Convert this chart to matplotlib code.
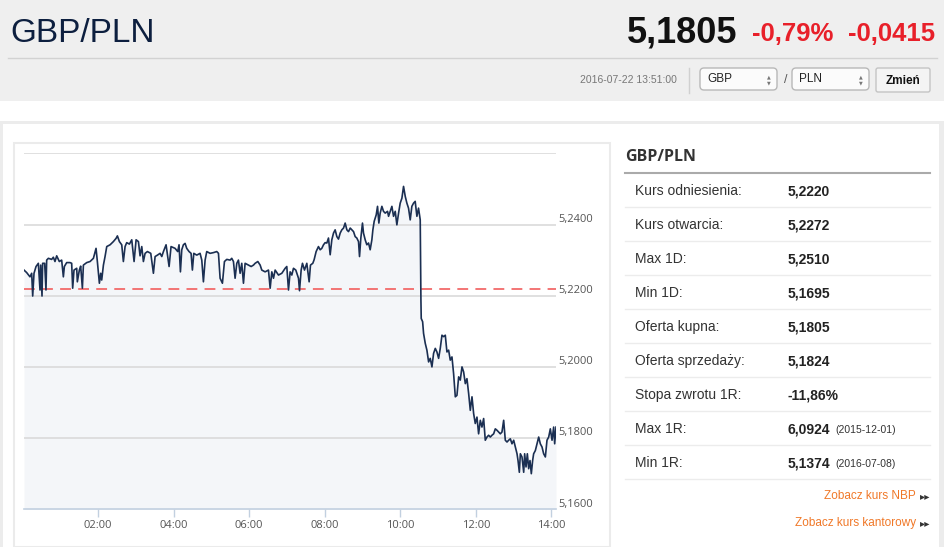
import matplotlib
matplotlib.use("Agg")
import matplotlib.pyplot as plt
from matplotlib.patches import Rectangle, FancyBboxPatch
import matplotlib.transforms as mtransforms

# ---------------- data (minutes after midnight, GBP/PLN rate) ----------------
minutes_a = [2.4, 6.6, 11.9, 14.6, 16.2, 18.3, 21.5, 25.2, 27.8, 28.9,
             31.0, 32.0, 35.2, 37.3, 38.4, 41.1, 46.3, 49.0, 51.6, 54.3,
             58.5, 62.2, 64.9, 66.5, 70.2, 75.5, 78.1, 79.7, 81.8, 86.1,
             87.1, 90.3, 92.4, 95.1, 96.7, 102.0, 107.3, 112.6, 116.8, 118.9,
             122.1, 124.2, 125.8, 128.5, 131.1, 133.8, 139.1, 144.3, 148.6, 150.7,
             153.9, 157.6, 160.2, 162.9, 165.5, 169.8, 173.5, 177.2, 180.4, 184.1,
             186.7, 189.4, 192.0, 194.7, 198.4, 203.7, 207.9, 210.6, 214.3, 218.5,
             221.2, 223.8, 228.0]
rate_a = [5.2272, 5.2265, 5.2253, 5.2263, 5.2199, 5.2263, 5.2282, 5.2291, 5.2216, 5.2286,
          5.2199, 5.2291, 5.2291, 5.2216, 5.2300, 5.2305, 5.2302, 5.2308, 5.2296, 5.2312,
          5.2296, 5.2300, 5.2253, 5.2282, 5.2293, 5.2293, 5.2291, 5.2221, 5.2272, 5.2277,
          5.2239, 5.2272, 5.2283, 5.2221, 5.2286, 5.2293, 5.2296, 5.2305, 5.2333, 5.2296,
          5.2235, 5.2263, 5.2244, 5.2286, 5.2310, 5.2338, 5.2343, 5.2352, 5.2361, 5.2368,
          5.2352, 5.2343, 5.2296, 5.2338, 5.2349, 5.2345, 5.2357, 5.2296, 5.2357, 5.2352,
          5.2312, 5.2338, 5.2296, 5.2319, 5.2324, 5.2319, 5.2263, 5.2310, 5.2314, 5.2319,
          5.2310, 5.2324, 5.2343]

minutes_b = [232.8, 235.9, 242.3, 246.5, 248.6, 250.8, 252.9, 255.5, 258.2, 260.8,
             264.5, 267.7, 269.8, 272.0, 276.7, 282.0, 284.7, 287.3, 290.0, 292.6,
             297.9, 303.2, 308.5, 311.2, 313.8, 317.5, 320.7, 324.4, 329.7, 332.3,
             335.0, 337.6, 340.3, 342.9, 345.6, 348.2, 350.9, 353.5, 358.8, 363.1,
             366.8, 369.4, 373.7, 377.4, 380.0, 385.3, 390.6, 393.3, 395.9, 398.6,
             401.2, 406.5, 411.8, 417.1, 419.7, 422.4, 425.0, 427.7, 430.3, 434.0,
             438.3, 439.9, 442.5, 444.6, 447.8, 451.5, 455.2, 457.3]
rate_b = [5.2282, 5.2338, 5.2333, 5.2324, 5.2343, 5.2267, 5.2329, 5.2343, 5.2347, 5.2333,
          5.2324, 5.2319, 5.2272, 5.2319, 5.2314, 5.2319, 5.2300, 5.2239, 5.2300, 5.2324,
          5.2319, 5.2321, 5.2324, 5.2319, 5.2249, 5.2235, 5.2296, 5.2302, 5.2300, 5.2305,
          5.2296, 5.2249, 5.2291, 5.2300, 5.2263, 5.2291, 5.2235, 5.2291, 5.2286, 5.2282,
          5.2286, 5.2291, 5.2296, 5.2286, 5.2272, 5.2267, 5.2272, 5.2221, 5.2267, 5.2249,
          5.2272, 5.2258, 5.2263, 5.2277, 5.2282, 5.2216, 5.2267, 5.2258, 5.2277, 5.2272,
          5.2249, 5.2214, 5.2272, 5.2291, 5.2272, 5.2291, 5.2239, 5.2286]

minutes_c = [461.0, 463.1, 466.3, 470.0, 472.7, 475.3, 478.0, 480.6, 483.3, 485.9,
             488.6, 491.2, 493.9, 496.5, 499.2, 501.8, 504.5, 507.1, 509.8, 512.4,
             515.1, 517.7, 520.4, 523.0, 525.7, 528.3, 530.9, 533.6, 535.2, 537.3,
             539.9, 541.5, 544.2, 546.8, 549.5, 552.1, 554.8, 556.4, 558.5, 561.7,
             563.8, 565.9, 568.0, 570.7, 573.3, 576.0, 579.7, 581.3, 583.9, 586.6,
             589.2, 591.9, 594.5, 597.2, 599.8, 602.5, 605.1, 607.8, 610.4, 613.0,
             615.7, 618.3, 621.0, 623.6, 626.3, 628.9, 631.6, 632.7]
rate_c = [5.2291, 5.2301, 5.2324, 5.2338, 5.2329, 5.2333, 5.2343, 5.2349, 5.2348, 5.2362,
          5.2315, 5.2357, 5.2376, 5.2385, 5.2366, 5.2359, 5.2376, 5.2385, 5.2390, 5.2404,
          5.2385, 5.2380, 5.2390, 5.2385, 5.2380, 5.2366, 5.2362, 5.2352, 5.2310, 5.2362,
          5.2404, 5.2376, 5.2357, 5.2343, 5.2348, 5.2329, 5.2357, 5.2385, 5.2409, 5.2427,
          5.2451, 5.2404, 5.2432, 5.2451, 5.2437, 5.2432, 5.2437, 5.2423, 5.2437, 5.2451,
          5.2423, 5.2437, 5.2399, 5.2432, 5.2460, 5.2474, 5.2507, 5.2479, 5.2460, 5.2446,
          5.2413, 5.2451, 5.2460, 5.2465, 5.2423, 5.2446, 5.2413, 5.2188]

minutes_d = [633.2, 635.4, 636.9, 639.6, 642.2, 644.9, 647.5, 650.2, 652.8, 655.5,
             658.1, 660.8, 663.4, 666.1, 668.7, 671.4, 674.0, 676.7, 679.3, 682.0,
             684.6, 687.3, 689.9, 692.6, 695.2, 697.9, 700.5, 703.2, 705.8, 708.5,
             711.1, 713.8, 716.4, 719.0, 721.7, 724.3, 727.0, 729.6, 732.3, 734.9,
             737.6, 740.2, 742.9, 745.5, 748.2, 750.8, 753.5, 756.1, 758.8, 761.4,
             764.1, 766.7, 769.4, 772.0, 774.7, 777.3, 780.0, 782.6, 785.3, 786.9,
             789.0, 790.6, 793.2, 795.9, 797.4, 799.6, 801.7, 803.8, 805.9, 808.0,
             810.1, 811.7, 814.4, 817.0, 819.7, 822.3, 825.0, 827.6, 830.3, 832.9,
             835.6, 838.2, 840.9, 843.5, 845.1, 847.2]
rate_d = [5.2136, 5.2127, 5.2094, 5.2066, 5.2047, 5.2014, 5.2024, 5.2000, 5.2038, 5.2052,
          5.2042, 5.2024, 5.2052, 5.2089, 5.2085, 5.2089, 5.2042, 5.2047, 5.2019, 5.2028,
          5.1981, 5.1916, 5.1920, 5.1972, 5.1963, 5.2000, 5.1986, 5.1953, 5.1967, 5.1925,
          5.1878, 5.1916, 5.1869, 5.1841, 5.1859, 5.1812, 5.1850, 5.1831, 5.1855, 5.1794,
          5.1803, 5.1808, 5.1803, 5.1808, 5.1812, 5.1826, 5.1822, 5.1817, 5.1812, 5.1817,
          5.1850, 5.1794, 5.1789, 5.1794, 5.1798, 5.1784, 5.1794, 5.1775, 5.1756, 5.1737,
          5.1704, 5.1756, 5.1747, 5.1704, 5.1756, 5.1719, 5.1756, 5.1714, 5.1737, 5.1700,
          5.1737, 5.1756, 5.1765, 5.1784, 5.1803, 5.1784, 5.1775, 5.1756, 5.1747, 5.1794,
          5.1803, 5.1826, 5.1794, 5.1831, 5.1784, 5.1831]

reference_rate = 5.2220
y_ticks = [5.16, 5.18, 5.20, 5.22, 5.24, 5.26]
y_tick_labels = ["5,1600", "5,1800", "5,2000", "5,2200", "5,2400", ""]
x_tick_hours = [2, 4, 6, 8, 10, 12, 14]
x_tick_labels = ["02:00", "04:00", "06:00", "08:00", "10:00", "12:00", "14:00"]

pair_name = "GBP/PLN"
last_price = "5,1805"
change_pct = "-0,79%"
change_abs = "-0,0415"
timestamp = "2016-07-22 13:51:00"
base_ccy = "GBP"
quote_ccy = "PLN"

table_labels = ["Kurs odniesienia:", "Kurs otwarcia:", "Max 1D:", "Min 1D:",
                "Oferta kupna:", "Oferta sprzedaży:", "Stopa zwrotu 1R:",
                "Max 1R:", "Min 1R:"]
table_values = ["5,2220", "5,2272", "5,2510", "5,1695", "5,1805", "5,1824",
                "-11,86%", "6,0924", "5,1374"]
table_notes = ["", "", "", "", "", "", "", "(2015-12-01)", "(2016-07-08)"]
links = ["Zobacz kurs NBP", "Zobacz kurs kantorowy"]

minutes = minutes_a + minutes_b + minutes_c + minutes_d
rate = rate_a + rate_b + rate_c + rate_d
assert len(minutes) == len(rate)
hours = [m / 60.0 for m in minutes]

# ---------------- figure ----------------
W, H = 945, 547
fig = plt.figure(figsize=(W / 100, H / 100), dpi=100)
fig.patch.set_facecolor("white")

bg = fig.add_axes([0, 0, 1, 1])
bg.set_xlim(0, W)
bg.set_ylim(H, 0)
bg.axis("off")

SANS = ["Open Sans", "DejaVu Sans"]
ARIAL = ["Liberation Sans", "DejaVu Sans"]
NARROW = ["Liberation Sans Narrow", "Liberation Sans", "DejaVu Sans"]

# header band
bg.add_patch(Rectangle((0, 0), W, 101, facecolor="#efefef", edgecolor="none"))
bg.plot([8, 937], [57.5, 57.5], color="#d2d2d2", lw=1)
bg.text(10, 33, pair_name, fontsize=24, color="#0d1f3f", family=NARROW,
        va="center", ha="left")
bg.text(737, 33, last_price, fontsize=26, color="#111111", family=NARROW,
        fontweight="bold", va="center", ha="right")
bg.text(833, 34, change_pct, fontsize=18.5, color="#e8202a", family=NARROW,
        fontweight="bold", va="center", ha="right")
bg.text(935, 34, change_abs, fontsize=18.5, color="#e8202a", family=NARROW,
        fontweight="bold", va="center", ha="right")

bg.text(677, 80, timestamp, fontsize=7.5, color="#777777", family=NARROW,
        va="center", ha="right")
bg.plot([688.5, 688.5], [68, 93], color="#d0d0d0", lw=1)

for x0, label in [(700, base_ccy), (792, quote_ccy)]:
    bg.add_patch(FancyBboxPatch((x0, 68), 77, 22, boxstyle="round,pad=0,rounding_size=4",
                                facecolor="#fbfbfb", edgecolor="#b8b8b8", lw=1))
    bg.text(x0 + 7, 79.5, label, fontsize=8.5, color="#222222", family=ARIAL,
            va="center", ha="left")
    bg.text(x0 + 69, 76.5, "▲", fontsize=3.5, color="#777777", family="DejaVu Sans",
            va="center", ha="center")
    bg.text(x0 + 69, 82.5, "▼", fontsize=3.5, color="#777777", family="DejaVu Sans",
            va="center", ha="center")
bg.text(786, 80, "/", fontsize=9, color="#555555", family=ARIAL, va="center", ha="center")
bg.add_patch(FancyBboxPatch((876, 68), 54, 24, boxstyle="round,pad=0,rounding_size=2",
                            facecolor="#f4f4f4", edgecolor="#c4c4c4", lw=1))
bg.text(903, 80.5, "Zmień", fontsize=8.5, color="#111111", family=NARROW,
        fontweight="bold", va="center", ha="center")

# container
bg.add_patch(Rectangle((0, 121), W, H - 121, facecolor="#ececec", edgecolor="none"))
bg.add_patch(Rectangle((3, 124), 936, H - 124, facecolor="white", edgecolor="none"))
bg.add_patch(Rectangle((13.5, 142.5), 596, 404, facecolor="white",
                       edgecolor="#ebebeb", lw=1.5))

# right info panel
bg.text(625, 157, pair_name, fontsize=11.5, color="#333333", family=SANS,
        fontweight="bold", va="center", ha="left")
bg.plot([625, 930], [172.5, 172.5], color="#aaaaaa", lw=1.5)
row_y0, row_h = 191, 34
for i, (lab, val, note) in enumerate(zip(table_labels, table_values, table_notes)):
    yc = row_y0 + i * row_h
    bg.text(635, yc, lab, fontsize=10, color="#333333", family=ARIAL,
            va="center", ha="left")
    bg.text(788, yc, val, fontsize=10, color="#222222", family=ARIAL,
            fontweight="bold", va="center", ha="left")
    if note:
        bg.text(835, yc + 1, note, fontsize=7.5, color="#333333", family=ARIAL,
                va="center", ha="left")
    bg.plot([625, 930], [yc + 15.5, yc + 15.5], color="#ececec", lw=1)

for j, link in enumerate(links):
    yl = 496 + j * 27
    bg.text(916, yl, link, fontsize=8.5, color="#f07828", family=ARIAL,
            va="center", ha="right")
    bg.text(925, yl, "▸▸", fontsize=7.5, color="#333333", family="DejaVu Sans",
            va="center", ha="center")

# ---------------- chart ----------------
px_l, px_r, px_t, px_b = 24, 556, 153.3, 509.3
ax = fig.add_axes([px_l / W, 1 - px_b / H, (px_r - px_l) / W, (px_b - px_t) / H])
ax.set_facecolor("white")
ax.set_xlim(hours[0], hours[-1])
ax.set_ylim(5.16, 5.26)

ax.fill_between(hours, rate, 5.16, color="#f4f6f9", lw=0, zorder=1)
for yv in y_ticks[1:]:
    ax.axhline(yv, color="#dadada", lw=1.2, zorder=2)
ax.axhline(reference_rate, color="#f26a6a", lw=1.3, dashes=(6, 4), zorder=3)
ax.plot(hours, rate, color="#1b2f52", lw=1.2, zorder=4, solid_joinstyle="round")

for s in ["top", "left", "right"]:
    ax.spines[s].set_visible(False)
ax.spines["bottom"].set_color("#c2d0e0")
ax.spines["bottom"].set_linewidth(1.2)
ax.set_yticks([])
ax.set_xticks(x_tick_hours)
ax.set_xticklabels(x_tick_labels, fontsize=8, color="#555555", family=SANS)
ax.tick_params(axis="x", length=6, width=1, color="#c2d0e0", pad=1.5)

offs = mtransforms.offset_copy(ax.get_yaxis_transform(), fig=fig, x=2, y=2, units="points")
for yv, lab in zip(y_ticks, y_tick_labels):
    if lab:
        ax.text(1.0, yv, lab, transform=offs, fontsize=8, color="#555555",
                family=SANS, va="baseline", ha="left", clip_on=False)

fig.savefig("out.png", dpi=100, facecolor="white")
